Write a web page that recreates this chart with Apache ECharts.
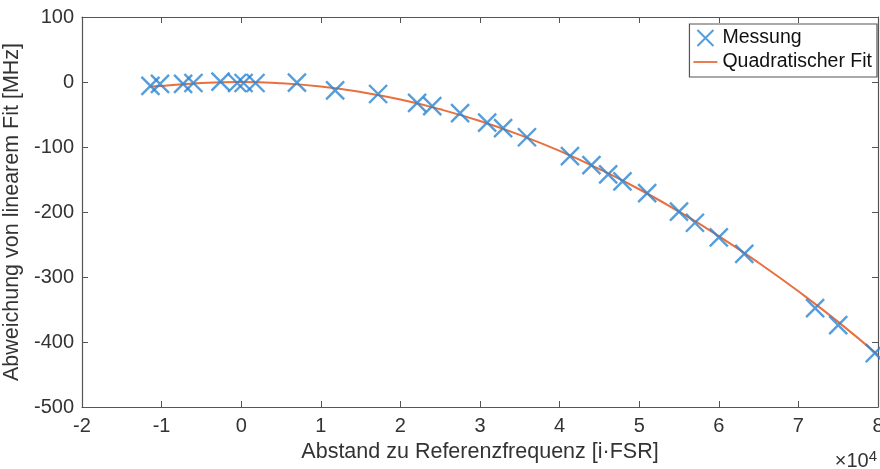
<!DOCTYPE html>
<html><head><meta charset="utf-8">
<script src="https://cdn.jsdelivr.net/npm/echarts@6/dist/echarts.min.js"></script>
<style>html,body{margin:0;padding:0;background:#fff}#c{width:880px;height:469px}</style>
</head><body><div id="c"></div>
<script>
// x in units of 10^4 i·FSR, y in MHz
const messX = [-1.14,-1.02,-0.73,-0.60,-0.26,-0.05,0.03,0.18,0.70,1.18,1.72,2.21,2.40,2.75,3.09,3.29,3.59,4.13,4.40,4.61,4.79,5.10,5.50,5.70,6.00,6.32,7.21,7.50,7.96];
const messY = [-6,-3,-3,-1.5,0.5,-1.5,-1.5,-1.5,-1,-13,-18.5,-32,-37,-48,-62.5,-71,-85,-114,-128,-142,-153,-171,-199.5,-216.5,-239,-264.5,-348,-374,-417];
const fitX = [-1.15,-1,-0.5,0,0.5,1,1.5,2,2.5,3,3.5,4,4.5,5,5.5,6,6.5,7,7.5,8];
const fitY = [-7,-6,-1.4,0,-1.9,-7,-15.4,-27,-42,-60,-81.4,-106,-134,-165,-199.4,-237,-278,-322,-369,-420];
const xTicks = [-2,-1,0,1,2,3,4,5,6,7,8];
const yTicks = [100,0,-100,-200,-300,-400,-500];

const blue = '#2a85d2', orange = '#e8703f', axisCol = '#555', txt = '#333';
const font = '"Liberation Sans", Arial, sans-serif';
const xPath = 'path://M0,0 L10,10 M10,0 L0,10';
const linePath = 'path://M0,0 L24,0 L24,1.8 L0,1.8 Z';

const chart = echarts.init(document.getElementById('c'), null, {renderer:'canvas'});
const axBase = {
  axisLine:{show:true, onZero:false, lineStyle:{color:axisCol, width:1.2}},
  axisTick:{show:true, inside:true, length:6, lineStyle:{color:axisCol}},
  splitLine:{show:false}
};
chart.setOption({
  animation:false,
  textStyle:{fontFamily:font},
  grid:{left:82, right:2, top:17, bottom:62, containLabel:false, outerBoundsMode:'none'},
  xAxis:[
    Object.assign({type:'value', min:xTicks[0], max:xTicks[xTicks.length-1], interval:1, position:'bottom',
      name:'Abstand zu Referenzfrequenz [i·FSR]', nameLocation:'middle', nameGap:34,
      nameTextStyle:{fontSize:21.5, color:txt, fontFamily:font},
      axisLabel:{fontSize:20, color:txt, margin:9, fontFamily:font}}, axBase),
    Object.assign({type:'value', min:-2, max:8, interval:1, position:'top', axisLabel:{show:false}}, axBase)
  ],
  yAxis:[
    Object.assign({type:'value', min:yTicks[yTicks.length-1], max:yTicks[0], interval:100, position:'left',
      name:'Abweichung von linearem Fit [MHz]', nameLocation:'middle', nameGap:51,
      nameTextStyle:{fontSize:21.5, color:txt, fontFamily:font},
      axisLabel:{fontSize:20, color:txt, margin:8, fontFamily:font}}, axBase),
    Object.assign({type:'value', min:-500, max:100, interval:100, position:'right', axisLabel:{show:false}}, axBase)
  ],
  legend:{
    orient:'vertical', right:3, top:24, itemGap:4, padding:[4,5,5,4],
    borderColor:axisCol, borderWidth:1.2, backgroundColor:'#fff',
    itemWidth:24, itemHeight:16, symbolKeepAspect:true,
    textStyle:{fontSize:19.5, color:'#111', fontFamily:font},
    data:[
      {name:'Messung', icon:xPath, itemStyle:{color:'transparent', borderColor:blue, borderWidth:2}},
      {name:'Quadratischer Fit', icon:linePath, itemStyle:{color:orange, borderWidth:0}}
    ]
  },
  series:[
    {name:'Quadratischer Fit', type:'line', smooth:true, symbol:'none', showSymbol:false, z:2,
      data:fitX.map((x,i)=>[x,fitY[i]]), lineStyle:{color:orange, width:2}, itemStyle:{color:orange}},
    {name:'Messung', type:'scatter', symbol:xPath, symbolSize:18, z:3,
      data:messX.map((x,i)=>[x,messY[i]]),
      itemStyle:{color:'transparent', borderColor:blue, borderWidth:2.4}}
  ],
  graphic:[
    {type:'text', right:3, top:449, style:{text:'×10{s|4}', fill:txt, font:'20px "Liberation Sans", Arial', rich:{s:{fontSize:15, verticalAlign:'top', padding:[0,0,10,0], fill:txt}}}}
  ]
});
</script></body></html>
